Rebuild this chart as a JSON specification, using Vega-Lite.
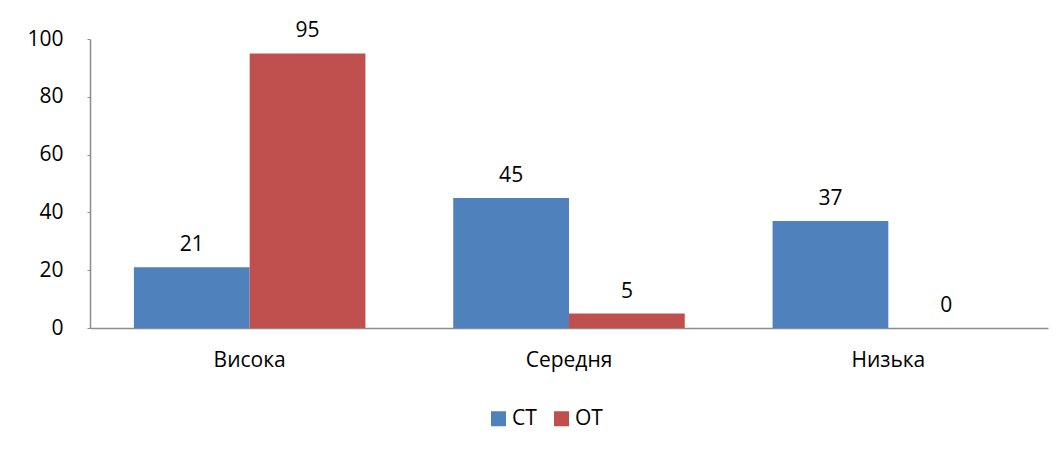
{
  "$schema": "https://vega.github.io/schema/vega-lite/v6.json",
  "width": 958,
  "height": 289,
  "autosize": {"type": "none"},
  "padding": {"left": 90, "top": 39, "right": 15, "bottom": 126},
  "background": "white",
  "data": {
    "values": [
      {"level": "Висока", "group": "СТ", "value": 21},
      {"level": "Висока", "group": "ОТ", "value": 95},
      {"level": "Середня", "group": "СТ", "value": 45},
      {"level": "Середня", "group": "ОТ", "value": 5},
      {"level": "Низька", "group": "СТ", "value": 37},
      {"level": "Низька", "group": "ОТ", "value": 0}
    ]
  },
  "encoding": {
    "x": {
      "field": "level",
      "type": "nominal",
      "sort": ["Висока", "Середня", "Низька"],
      "scale": {"paddingInner": 0.275, "paddingOuter": 0.1375},
      "axis": {
        "title": null,
        "labelAngle": 0,
        "labelFontSize": 21,
        "labelFont": "Open Sans",
        "labelColor": "black",
        "labelPadding": 21,
        "ticks": false,
        "domainColor": "#8c8c8c",
        "domainWidth": 1.5
      }
    },
    "xOffset": {
      "field": "group",
      "type": "nominal",
      "sort": ["СТ", "ОТ"],
      "scale": {"paddingInner": 0, "paddingOuter": 0}
    },
    "y": {
      "field": "value",
      "type": "quantitative",
      "scale": {"domain": [0, 100], "nice": false},
      "axis": {
        "title": null,
        "values": [0, 20, 40, 60, 80, 100],
        "grid": false,
        "labelFontSize": 21,
        "labelFont": "Open Sans",
        "labelColor": "black",
        "labelPadding": 24,
        "tickSize": 3,
        "tickColor": "#8c8c8c",
        "domainColor": "#8c8c8c",
        "domainWidth": 1.5
      }
    }
  },
  "layer": [
    {
      "mark": {"type": "bar"},
      "encoding": {
        "color": {
          "field": "group",
          "type": "nominal",
          "sort": ["СТ", "ОТ"],
          "scale": {"domain": ["СТ", "ОТ"], "range": ["#4F81BD", "#C0504D"]},
          "legend": {
            "title": null,
            "orient": "none",
            "direction": "horizontal",
            "legendX": 398,
            "legendY": 369,
            "symbolType": "square",
            "symbolSize": 225,
            "symbolStrokeWidth": 0,
            "labelFontSize": 21,
            "labelFont": "Open Sans",
            "labelColor": "black",
            "labelOffset": 3,
            "columnPadding": 14
          }
        }
      }
    },
    {
      "mark": {"type": "text", "baseline": "bottom", "dy": -12, "fontSize": 21, "font": "Open Sans", "color": "black"},
      "encoding": {"text": {"field": "value", "type": "quantitative"}}
    }
  ],
  "config": {"view": {"stroke": null}}
}
